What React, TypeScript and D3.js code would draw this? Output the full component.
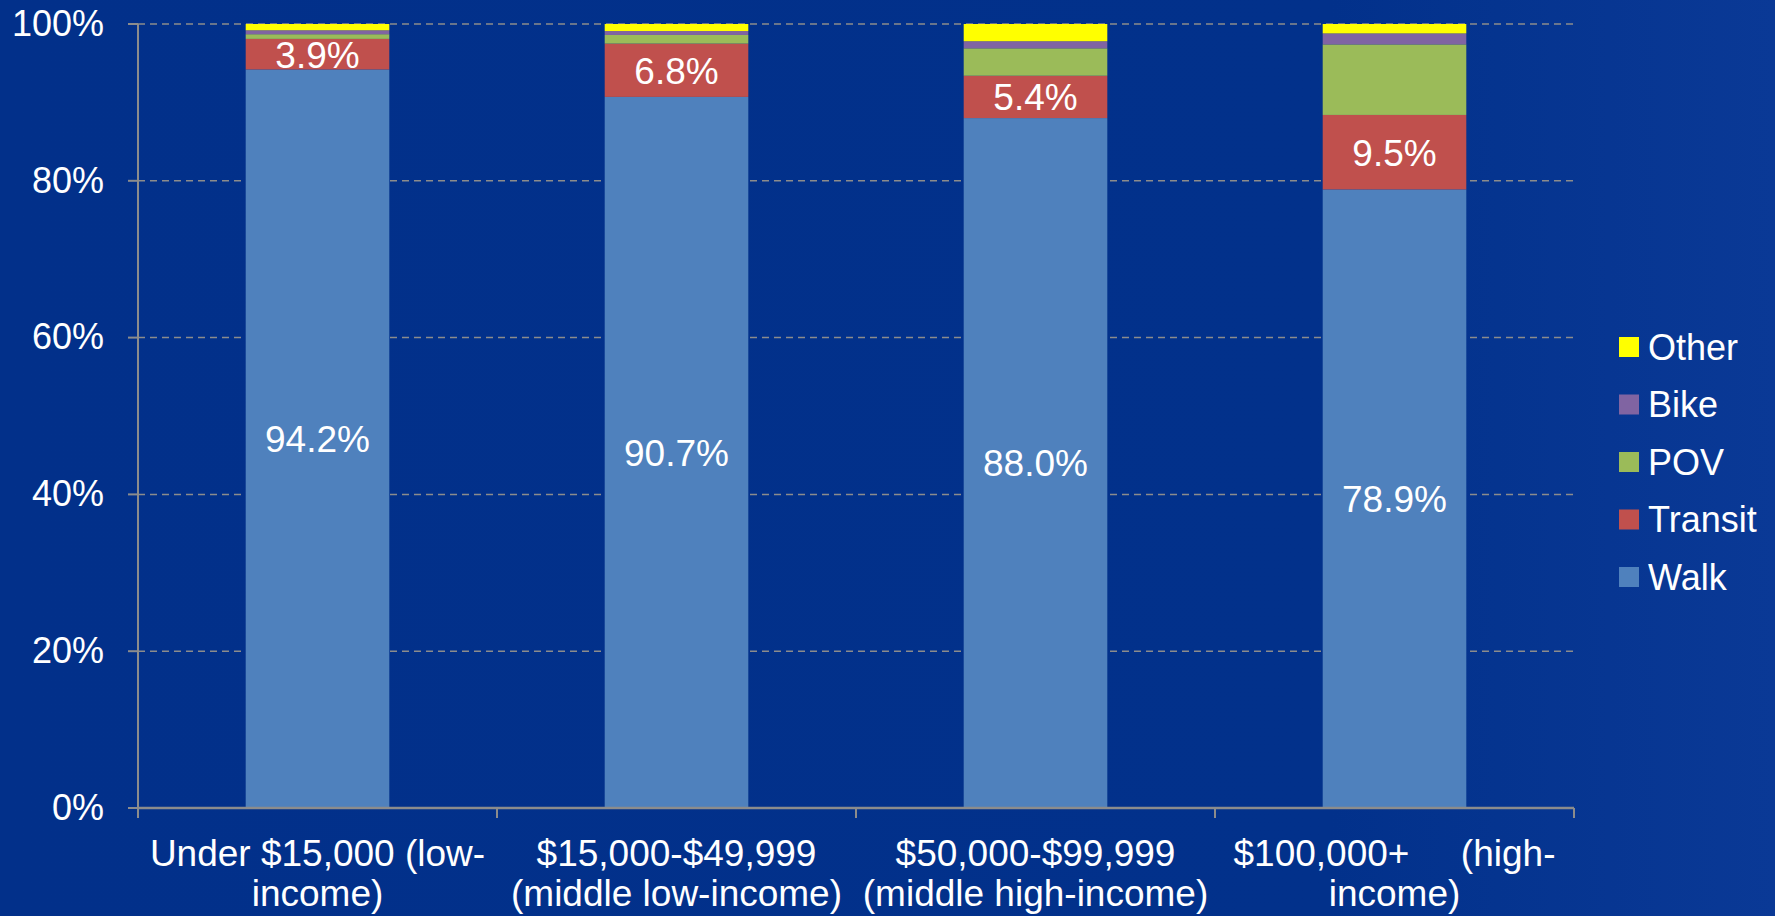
import React from "react";
import * as d3 from "d3";

// categories (two lines each, as on the axis)
const categoryLine1 = ["Under $15,000 (low-", "$15,000-$49,999", "$50,000-$99,999", "$100,000+     (high-"];
const categoryLine2 = ["income)", "(middle low-income)", "(middle high-income)", "income)"];

// mode share, percent
const walk = [94.2, 90.7, 88.0, 78.9];
const transit = [3.9, 6.8, 5.4, 9.5];
const pov = [0.6, 1.1, 3.5, 9.0];
const bike = [0.5, 0.5, 0.9, 1.4];
const other = [0.8, 0.9, 2.2, 1.2];

const seriesNames = ["Walk", "Transit", "POV", "Bike", "Other"];
const seriesColors = ["#4f81bd", "#c0504d", "#9bbb59", "#8064a2", "#ffff00"];
const labelled = ["Walk", "Transit"];

const yTicks = [0, 20, 40, 60, 80, 100];

const W = 1775, H = 916;
const margin = { top: 24, right: 201, bottom: 108, left: 138 };
const FONT = "'Liberation Sans', Arial, sans-serif";

export default function App() {
  const w = W - margin.left - margin.right;
  const h = H - margin.top - margin.bottom;

  const rows = categoryLine1.map((c, i) => ({
    key: i,
    Walk: walk[i],
    Transit: transit[i],
    POV: pov[i],
    Bike: bike[i],
    Other: other[i],
  }));

  const x = d3.scaleBand<number>().domain(rows.map(r => r.key)).range([0, w]).paddingInner(0.6).paddingOuter(0.3);
  const y = d3.scaleLinear().domain([0, 100]).range([h, 0]);
  const color = d3.scaleOrdinal<string, string>().domain(seriesNames).range(seriesColors);
  const stacked = d3.stack<any>().keys(seriesNames)(rows);
  const step = x.step();

  return (
    <svg width={W} height={H} style={{ position: "absolute", left: 0, top: 0 }} fontFamily={FONT}>
      <defs>
        <linearGradient id="bg" x1="0" y1="0" x2="1" y2="0">
          <stop offset="0" stopColor="#02308a" />
          <stop offset="0.75" stopColor="#02318b" />
          <stop offset="1" stopColor="#0a3996" />
        </linearGradient>
      </defs>
      <rect width={W} height={H} fill="url(#bg)" />
      <g transform={`translate(${margin.left},${margin.top})`}>
        {/* grid lines */}
        {yTicks.filter(t => t > 0).map(t => (
          <line key={t} x1={0} x2={w} y1={y(t)} y2={y(t)} stroke="#8c8c8c" strokeWidth={1.5} strokeDasharray="7,5" />
        ))}

        {/* bars */}
        {stacked.map(s => (
          <g key={s.key} fill={color(s.key)}>
            {s.map((d, i) => (
              <rect key={i} x={x(i)} width={x.bandwidth()} y={y(d[1])} height={y(d[0]) - y(d[1])} />
            ))}
          </g>
        ))}

        {/* value labels */}
        {stacked.filter(s => labelled.includes(s.key)).map(s =>
          s.map((d, i) => (
            <text key={s.key + i} x={(x(i) as number) + x.bandwidth() / 2} y={y((d[0] + d[1]) / 2)}
              dy="0.36em" textAnchor="middle" fill="#fff" fontSize={37}>
              {d3.format(".1f")(d[1] - d[0]) + "%"}
            </text>
          ))
        )}

        {/* y axis */}
        <line x1={0} x2={0} y1={0} y2={h} stroke="#8c8c8c" strokeWidth={2} />
        {yTicks.map(t => (
          <g key={t} transform={`translate(0,${y(t)})`}>
            <line x1={-10} x2={0} stroke="#8c8c8c" strokeWidth={2} />
            <text x={-34} dy="0.33em" textAnchor="end" fill="#fff" fontSize={36}>{t + "%"}</text>
          </g>
        ))}

        {/* x axis */}
        <line x1={0} x2={w} y1={h} y2={h} stroke="#8c8c8c" strokeWidth={2.5} />
        {d3.range(rows.length + 1).map(k => (
          <line key={k} x1={k * step} x2={k * step} y1={h} y2={h + 10} stroke="#8c8c8c" strokeWidth={2} />
        ))}
        {rows.map((r, i) => (
          <text key={i} textAnchor="middle" fill="#fff" fontSize={37} style={{ whiteSpace: "pre" }}>
            <tspan x={(x(i) as number) + x.bandwidth() / 2} y={h + 58}>{categoryLine1[i]}</tspan>
            <tspan x={(x(i) as number) + x.bandwidth() / 2} y={h + 98}>{categoryLine2[i]}</tspan>
          </text>
        ))}
      </g>

      {/* legend */}
      <g transform="translate(1619,347)">
        {seriesNames.slice().reverse().map((n, i) => (
          <g key={n} transform={`translate(0,${i * 57.5})`}>
            <rect x={0} y={-10} width={20} height={20} fill={color(n)} />
            <text x={29} dy="0.36em" fill="#fff" fontSize={36}>{n}</text>
          </g>
        ))}
      </g>
    </svg>
  );
}
